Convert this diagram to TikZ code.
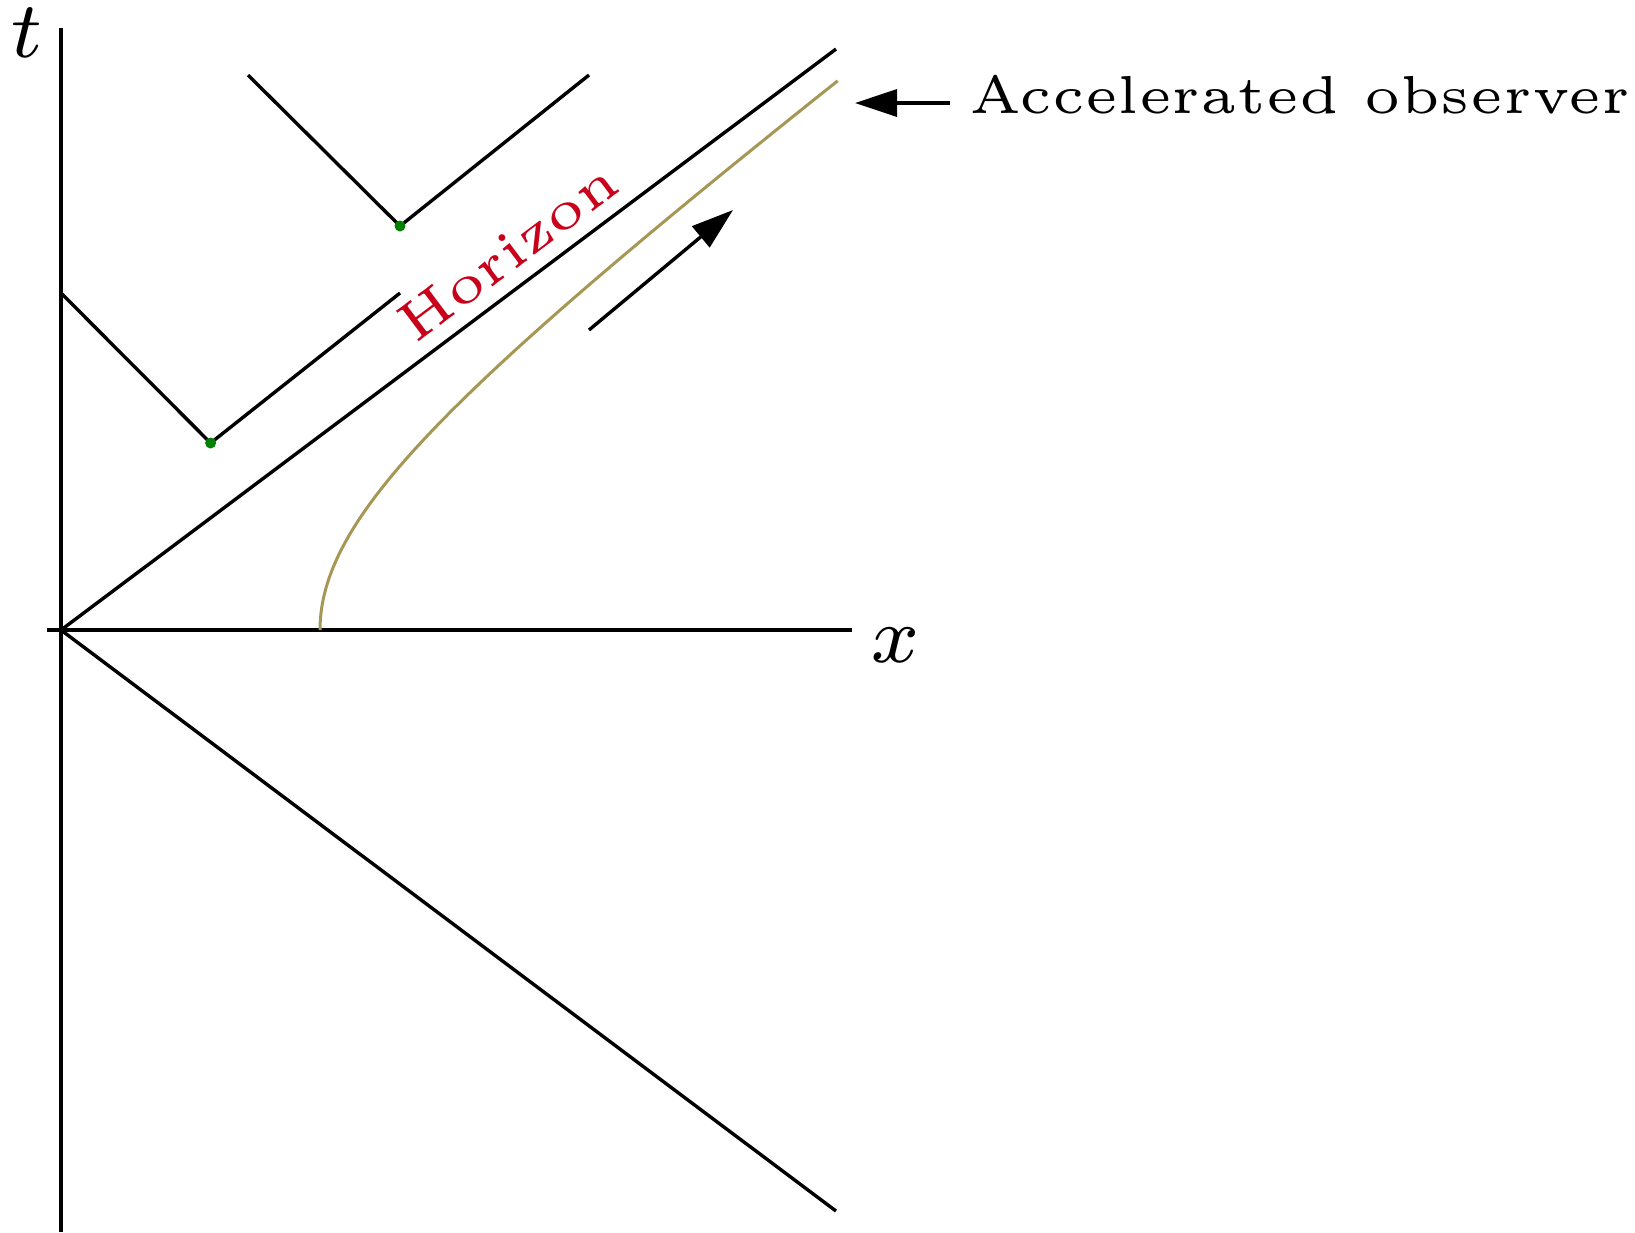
\documentclass[tikz,border=0pt]{standalone}
\usetikzlibrary{arrows.meta}
\definecolor{obs}{RGB}{166,152,84}
\definecolor{horiz}{RGB}{200,0,25}
\definecolor{dotgreen}{RGB}{0,130,0}
\begin{document}
\begin{tikzpicture}[x=0.1pt,y=-0.1pt,
  axis/.style={line width=0.34pt, black},
  conearm/.style={line width=0.34pt, black},
  worldline/.style={line width=0.3pt, obs},
  event/.style={circle, fill=dotgreen, inner sep=0pt, minimum size=1.1pt},
  motion/.style={line width=0.34pt, -{Triangle[length=4.2pt,width=2.7pt]}},
  lbl/.style={inner sep=0pt, font=\fontsize{5.35}{6.4}\selectfont},
  mathlbl/.style={inner sep=0pt, font=\fontsize{8}{10}\selectfont}
]
\useasboundingbox (0,0) rectangle (1635,1232);
% key points
\coordinate (O) at (61,630);
\coordinate (ttop) at (61,28);
\coordinate (tbot) at (61,1232);
\coordinate (xleft) at (47,630);
\coordinate (xright) at (852,630);
\coordinate (hup) at (836,49);
\coordinate (hlow) at (836,1211);
% axes
\draw[axis] (tbot) -- (ttop);
\draw[axis] (xleft) -- (xright);
\node[mathlbl] (tlab) at (27,33) {$t$};
\node[mathlbl] (xlab) at (895,645) {$x$};
% horizon lines
\draw[conearm] (O) -- (hup);
\draw[conearm] (O) -- (hlow);
% accelerated observer worldline
\draw[worldline] plot[domain=0:1.7627, samples=80, variable=\u]
  ({61+259*cosh(\u)},{630-194.25*sinh(\u)});
% light cones
\coordinate (c1l) at (61,293);
\coordinate (c1v) at (210.6,443);
\coordinate (c1r) at (400,293);
\coordinate (c2l) at (248,75);
\coordinate (c2v) at (400,226);
\coordinate (c2r) at (589,75);
\draw[conearm] (c1l) -- (c1v) -- (c1r);
\draw[conearm] (c2l) -- (c2v) -- (c2r);
\node[event] (e1) at (c1v) {};
\node[event] (e2) at (c2v) {};
% labels
\node[lbl, text=horiz, rotate=36.87, scale=1.04] (hz) at (508,252) {Horizon};
\node[lbl, anchor=base west] (ao) at (967,113) {Accelerated observer};
% arrows
\coordinate (aotail) at (950,103);
\coordinate (aotip) at (855,103);
\draw[motion] (aotail) -- (aotip);
\coordinate (mtail) at (589,330);
\coordinate (mtip) at (733,210);
\draw[motion] (mtail) -- (mtip);
\end{tikzpicture}
\end{document}
